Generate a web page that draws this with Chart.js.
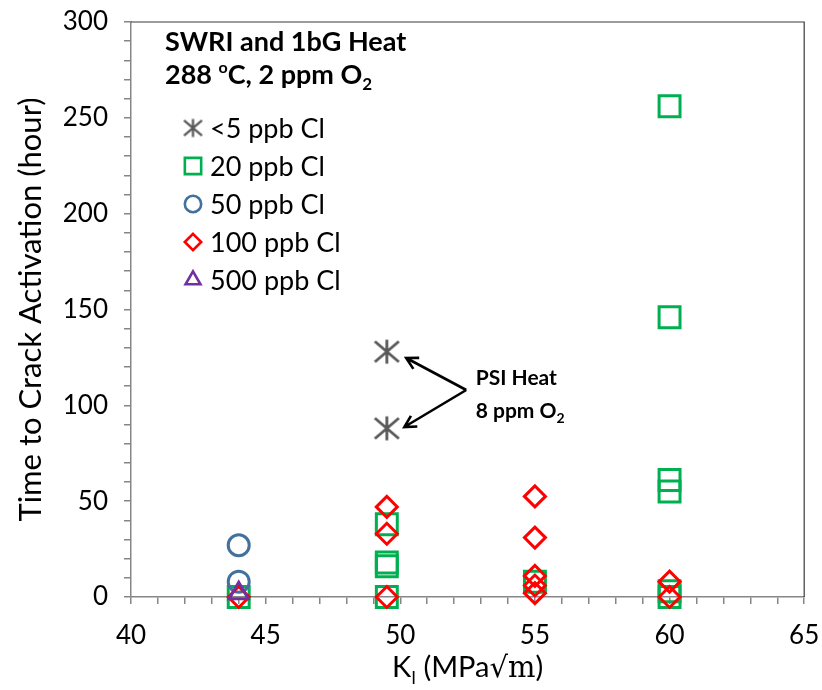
<!DOCTYPE html>
<html>
<head>
<meta charset="utf-8">
<script src="https://cdn.jsdelivr.net/npm/chart.js@4"></script>
<style>
  html, body { margin: 0; padding: 0; background: #fff; }
  #wrap { width: 822px; height: 690px; }
</style>
</head>
<body>
<div id="wrap"><canvas id="chart" width="822" height="690"></canvas></div>
<script>
// stress intensity (x) and hours to crack activation (y), one pair of arrays per chloride level
const kI_lt5 = [49.5, 49.5];
const hrs_lt5 = [128, 88];
const kI_20 = [44, 49.5, 49.5, 49.5, 49.5, 55, 60, 60, 60, 60, 60, 60];
const hrs_20 = [0, 38, 18, 16, 0, 8, 256, 146, 61, 55, 3, 0];
const kI_50 = [44, 44];
const hrs_50 = [27, 8];
const kI_100 = [44, 49.5, 49.5, 49.5, 55, 55, 55, 55, 55, 60, 60];
const hrs_100 = [0, 47, 33, 0, 52.5, 31, 11, 6, 2, 8, 0];
const kI_500 = [44];
const hrs_500 = [2];

const seriesNames = ['<5 ppb Cl', '20 ppb Cl', '50 ppb Cl', '100 ppb Cl', '500 ppb Cl'];
const xTickLabels = [40, 45, 50, 55, 60, 65];
const yTickLabels = [0, 50, 100, 150, 200, 250, 300];

const FONT = 'Lato';

function pairs(xs, ys) {
  return xs.map((x, i) => ({x: x, y: ys[i]}));
}

// Excel-like "star" marker: an X with a vertical bar
function asterisk(size, lw) {
  const c = document.createElement('canvas');
  c.width = c.height = size;
  const g = c.getContext('2d');
  const h = size / 2;
  const a = h - 1.5;
  g.strokeStyle = '#595959';
  g.lineWidth = lw;
  g.beginPath();
  g.moveTo(h, h - a); g.lineTo(h, h + a);
  g.moveTo(h - a, h - a * 0.85); g.lineTo(h + a, h + a * 0.85);
  g.moveTo(h + a, h - a * 0.85); g.lineTo(h - a, h + a * 0.85);
  g.stroke();
  return c;
}

const starBig = asterisk(27, 2.8);
const starSmall = asterisk(21, 2.3);

const styles = [
  {style: starBig, small: starSmall, color: '#595959', r: 12},
  {style: 'rect', color: '#00B050', r: 14.8},
  {style: 'circle', color: '#41719C', r: 10.5},
  {style: 'rectRot', color: '#FF0000', r: 10.5},
  {style: 'triangle', color: '#7030A0', r: 11}
];

const allData = [pairs(kI_lt5, hrs_lt5), pairs(kI_20, hrs_20), pairs(kI_50, hrs_50),
                 pairs(kI_100, hrs_100), pairs(kI_500, hrs_500)];

const datasets = allData.map((d, i) => ({
  label: seriesNames[i],
  data: d,
  pointStyle: styles[i].style,
  pointRadius: styles[i].r,
  pointBorderColor: styles[i].color,
  pointBackgroundColor: 'rgba(0,0,0,0)',
  pointBorderWidth: 3,
  showLine: false,
  clip: false,
  order: 5 - i
}));

function drawMarker(ctx, i, x, y) {
  const s = styles[i];
  const k = 0.78;
  ctx.save();
  ctx.strokeStyle = s.color;
  ctx.lineWidth = 2.6;
  ctx.beginPath();
  if (i === 0) {
    ctx.drawImage(s.small, x - s.small.width / 2, y - s.small.height / 2);
  } else if (s.style === 'rect') {
    const h = s.r * Math.SQRT1_2 * k;
    ctx.rect(x - h, y - h, 2 * h, 2 * h);
  } else if (s.style === 'circle') {
    ctx.arc(x, y, s.r * k, 0, Math.PI * 2);
  } else if (s.style === 'rectRot') {
    const r = s.r * k;
    ctx.moveTo(x, y - r); ctx.lineTo(x + r, y); ctx.lineTo(x, y + r); ctx.lineTo(x - r, y); ctx.closePath();
  } else {
    const r = s.r * k;
    for (let j = 0; j < 3; j++) {
      const a = j * 2 * Math.PI / 3;
      const px = x + Math.sin(a) * r, py = y - Math.cos(a) * r;
      if (j === 0) ctx.moveTo(px, py); else ctx.lineTo(px, py);
    }
    ctx.closePath();
  }
  if (i !== 0) ctx.stroke();
  ctx.restore();
}

// draws pieces of text one after another; each piece may be raised or lowered
function runText(ctx, x, y, parts) {
  let cx = x;
  for (const p of parts) {
    ctx.font = p.font;
    ctx.fillText(p.t, cx, y + (p.dy || 0));
    cx += ctx.measureText(p.t).width;
  }
  return cx;
}

function runWidth(ctx, parts) {
  let w = 0;
  for (const p of parts) {
    ctx.font = p.font;
    w += ctx.measureText(p.t).width;
  }
  return w;
}

function arrow(ctx, x1, y1, x2, y2) {
  const ang = Math.atan2(y2 - y1, x2 - x1);
  const L = 13, spread = 0.5;
  ctx.beginPath();
  ctx.moveTo(x1, y1);
  ctx.lineTo(x2, y2);
  ctx.moveTo(x2 - L * Math.cos(ang - spread), y2 - L * Math.sin(ang - spread));
  ctx.lineTo(x2, y2);
  ctx.lineTo(x2 - L * Math.cos(ang + spread), y2 - L * Math.sin(ang + spread));
  ctx.stroke();
}

const overlay = {
  id: 'overlay',
  beforeDatasetsDraw(chart) {
    const {ctx, chartArea: a} = chart;
    ctx.save();
    ctx.strokeStyle = '#3a3a3a';
    ctx.lineWidth = 1.2;
    ctx.beginPath();
    ctx.moveTo(a.left, a.top);
    ctx.lineTo(a.right, a.top);
    ctx.lineTo(a.right, a.bottom);
    ctx.stroke();
    ctx.restore();
  },
  afterDraw(chart) {
    const {ctx, chartArea: a} = chart;
    const xs = chart.scales.x, ys = chart.scales.y;
    ctx.save();
    ctx.fillStyle = '#000';
    ctx.textBaseline = 'alphabetic';
    ctx.textAlign = 'left';

    // heading inside the plot
    ctx.font = 'bold 27px ' + FONT;
    ctx.fillText('SWRI and 1bG Heat', 165, 51);
    runText(ctx, 165, 84, [
      {t: '288 ', font: 'bold 27px ' + FONT},
      {t: 'o', font: 'bold 16px ' + FONT, dy: -11},
      {t: 'C, 2 ppm O', font: 'bold 27px ' + FONT},
      {t: '2', font: 'bold 17px ' + FONT, dy: 6}
    ]);

    // legend
    const rows = [138, 176, 214, 252, 290];
    seriesNames.forEach((name, i) => {
      drawMarker(ctx, i, 193, rows[i] - 10);
      ctx.fillStyle = '#000';
      ctx.font = '27px ' + FONT;
      ctx.fillText(name, 210, rows[i]);
    });

    // PSI heat note with arrows
    ctx.strokeStyle = '#000';
    ctx.lineWidth = 2.6;
    const vx = xs.getPixelForValue(52.45), vy = ys.getPixelForValue(108);
    arrow(ctx, vx, vy, xs.getPixelForValue(50.22), ys.getPixelForValue(124.7));
    arrow(ctx, vx, vy, xs.getPixelForValue(50.15), ys.getPixelForValue(88.7));
    const tx = xs.getPixelForValue(52.8);
    ctx.font = 'bold 21px ' + FONT;
    ctx.fillText('PSI Heat', tx, ys.getPixelForValue(110.6));
    runText(ctx, tx, ys.getPixelForValue(93.4), [
      {t: '8 ppm O', font: 'bold 21px ' + FONT},
      {t: '2', font: 'bold 14px ' + FONT, dy: 5}
    ]);

    // x axis title with subscript
    const parts = [
      {t: 'K', font: '29px ' + FONT},
      {t: 'I', font: '17px ' + FONT, dy: 7},
      {t: ' (MPa', font: '29px ' + FONT},
      {t: '\u221Am', font: '29px "DejaVu Serif"'},
      {t: ')', font: '29px ' + FONT}
    ];
    const w = runWidth(ctx, parts);
    runText(ctx, (a.left + a.right) / 2 - w / 2, 677, parts);
    ctx.restore();
  }
};

new Chart(document.getElementById('chart'), {
  type: 'scatter',
  data: {datasets: datasets},
  options: {
    responsive: false,
    animation: false,
    layout: {padding: {top: 22, right: 16, left: 0, bottom: 0}},
    plugins: {legend: {display: false}, tooltip: {enabled: false}},
    scales: {
      x: {
        type: 'linear', min: 40, max: 65,
        afterFit(s) { s.height = 93; s.paddingLeft = 0; s.paddingRight = 0; },
        border: {color: '#868686', width: 1.5},
        grid: {drawOnChartArea: false, color: '#868686', lineWidth: 1.5, tickLength: 7},
        ticks: {
          stepSize: 1, autoSkip: false, maxRotation: 0, padding: 16,
          color: '#000', font: {family: FONT, size: 26},
          callback: v => xTickLabels.includes(v) ? String(v) : ''
        }
      },
      y: {
        type: 'linear', min: 0, max: 300,
        afterFit(s) { s.width = 131; s.paddingTop = 0; s.paddingBottom = 0; },
        border: {color: '#868686', width: 1.5},
        grid: {drawOnChartArea: false, color: '#868686', lineWidth: 1.5, tickLength: 7},
        ticks: {
          stepSize: 10, autoSkip: false, padding: 16,
          color: '#000', font: {family: FONT, size: 26},
          callback: v => yTickLabels.includes(v) ? String(v) : ''
        },
        title: {
          display: true, text: 'Time to Crack Activation (hour)',
          color: '#000', font: {family: FONT, size: 31}, padding: {top: 12, bottom: 0}
        }
      }
    }
  },
  plugins: [overlay]
});
</script>
</body>
</html>
